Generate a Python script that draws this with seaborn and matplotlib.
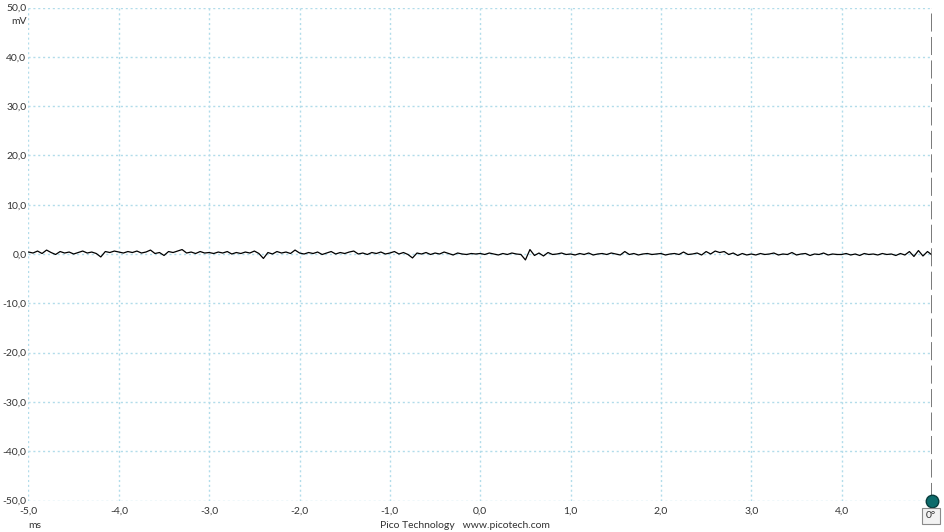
import numpy as np
import pandas as pd
import matplotlib.pyplot as plt
import seaborn as sns

# time axis (ms), one sample every 0.05 ms
time_ms = np.round(np.arange(-5.0, 5.0001, 0.05), 2)

# signal (mV)
volts_mv = [
    0.4, 0.2, 0.6, 0.1, 0.8, 0.3, -0.1, 0.5, 0.2, 0.4, 0.0, 0.3, 0.6, 0.2, 0.4, 0.1, -0.6, 0.5, 0.3, 0.6,
    0.4, 0.2, 0.5, 0.3, 0.6, 0.2, 0.4, 0.8, 0.1, 0.3, -0.3, 0.5, 0.3, 0.6, 0.9, 0.2, 0.4, 0.1, 0.5, 0.2,
    0.3, 0.1, 0.4, 0.2, 0.5, 0.0, 0.3, 0.1, 0.4, 0.2, 0.6, 0.1, -0.9, 0.3, 0.0, 0.5, 0.2, 0.4, 0.1, 0.8,
    0.2, 0.0, 0.3, 0.1, 0.4, -0.1, 0.2, 0.5, 0.0, 0.3, 0.1, 0.4, 0.6, 0.0, 0.2, -0.1, 0.3, 0.1, 0.4, 0.0,
    0.2, 0.5, 0.0, 0.3, -0.1, -0.8, 0.2, 0.0, 0.3, -0.1, 0.2, 0.0, 0.4, 0.1, -0.2, 0.2, 0.0, -0.1, 0.1, 0.0,
    0.1, -0.1, 0.2, 0.0, -0.2, 0.1, -0.1, 0.2, 0.0, -0.1, -1.2, 0.9, -0.3, 0.2, -0.4, 0.3, -0.1, 0.0, 0.2, -0.1,
    0.0, -0.2, 0.1, -0.1, 0.2, -0.2, 0.0, 0.1, -0.1, 0.2, 0.0, -0.2, 0.5, -0.1, 0.1, -0.2, 0.0, 0.1, -0.1, 0.0,
    0.1, -0.2, 0.0, 0.1, -0.1, 0.4, -0.1, 0.0, 0.2, -0.2, 0.5, 0.0, 0.6, 0.3, 0.5, -0.1, 0.2, -0.3, 0.1, -0.2,
    0.0, -0.2, 0.1, -0.1, 0.0, 0.2, -0.2, 0.0, -0.1, 0.3, -0.2, 0.0, 0.1, -0.3, 0.0, -0.1, 0.2, -0.2, 0.0, -0.1,
    -0.1, 0.1, -0.2, 0.0, -0.3, 0.1, -0.1, 0.0, -0.2, 0.1, -0.1, 0.0, -0.3, 0.1, -0.2, 0.5, -0.5, 0.7, -0.4, 0.5, -0.2,
]

x_ticks = [-5, -4, -3, -2, -1, 0, 1, 2, 3, 4]
x_labels = ["-5,0", "-4,0", "-3,0", "-2,0", "-1,0", "0,0", "1,0", "2,0", "3,0", "4,0"]
y_ticks = [50, 40, 30, 20, 10, 0, -10, -20, -30, -40, -50]
y_labels = ["50,0", "40,0", "30,0", "20,0", "10,0", "0,0", "-10,0", "-20,0", "-30,0", "-40,0", "-50,0"]

df = pd.DataFrame({"t": time_ms, "v": volts_mv})

sns.set_style("white")
plt.rcParams["font.family"] = ["Lato", "DejaVu Sans"]

fig = plt.figure(figsize=(9.45, 5.32), dpi=100)
ax = fig.add_axes([28.5 / 945, 1 - 500.5 / 532, 903.5 / 945, 493 / 532])

# grid lines (fine dotted, light blue)
grid_col = "#b2dcea"
for yv in y_ticks:
    ax.axhline(yv, color=grid_col, lw=1.0, ls=(0, (1.5, 2)), zorder=1)
for xv in x_ticks:
    ax.axvline(xv, color=grid_col, lw=1.0, ls=(0, (1.5, 2)), zorder=1)

sns.lineplot(data=df, x="t", y="v", color="black", lw=0.9, ax=ax, zorder=3)

# trigger / ruler line at right edge
ax.axvline(5.0, color="#6e6e6e", lw=1.3, ls=(0, (10, 3)), zorder=4)
ax.plot([5.0], [-50], "o", ms=9, color="#0d6b6b", mec="#083d3d", mew=1,
        clip_on=False, zorder=5)

ax.set_xlim(-5, 5)
ax.set_ylim(-50, 50)
ax.set_xticks(x_ticks)
ax.set_xticklabels(x_labels)
ax.set_yticks(y_ticks)
ax.set_yticklabels(y_labels)
ax.tick_params(axis="both", length=0, labelsize=7.5, colors="#333333")
ax.tick_params(axis="x", pad=4.5)
ax.tick_params(axis="y", pad=1.5)
ax.set_xlabel("")
ax.set_ylabel("")
for s in ax.spines.values():
    s.set_visible(False)

fig.text(19 / 945, 1 - 21 / 532, "mV", fontsize=7.5, color="#333333", ha="center", va="center")
fig.text(35 / 945, 1 - 525 / 532, "ms", fontsize=7.5, color="#333333", ha="center", va="center")
fig.text(465 / 945, 1 - 525 / 532, "Pico Technology   www.picotech.com", fontsize=7.5,
         color="#333333", ha="center", va="center")
fig.text(931 / 945, 1 - 516 / 532, "0°", fontsize=7.5, color="#333333", ha="center", va="center",
         bbox=dict(boxstyle="square,pad=0.35", fc="#f2f2f2", ec="#8a8a8a", lw=0.8))

fig.savefig("out.png", dpi=100, facecolor="white")
